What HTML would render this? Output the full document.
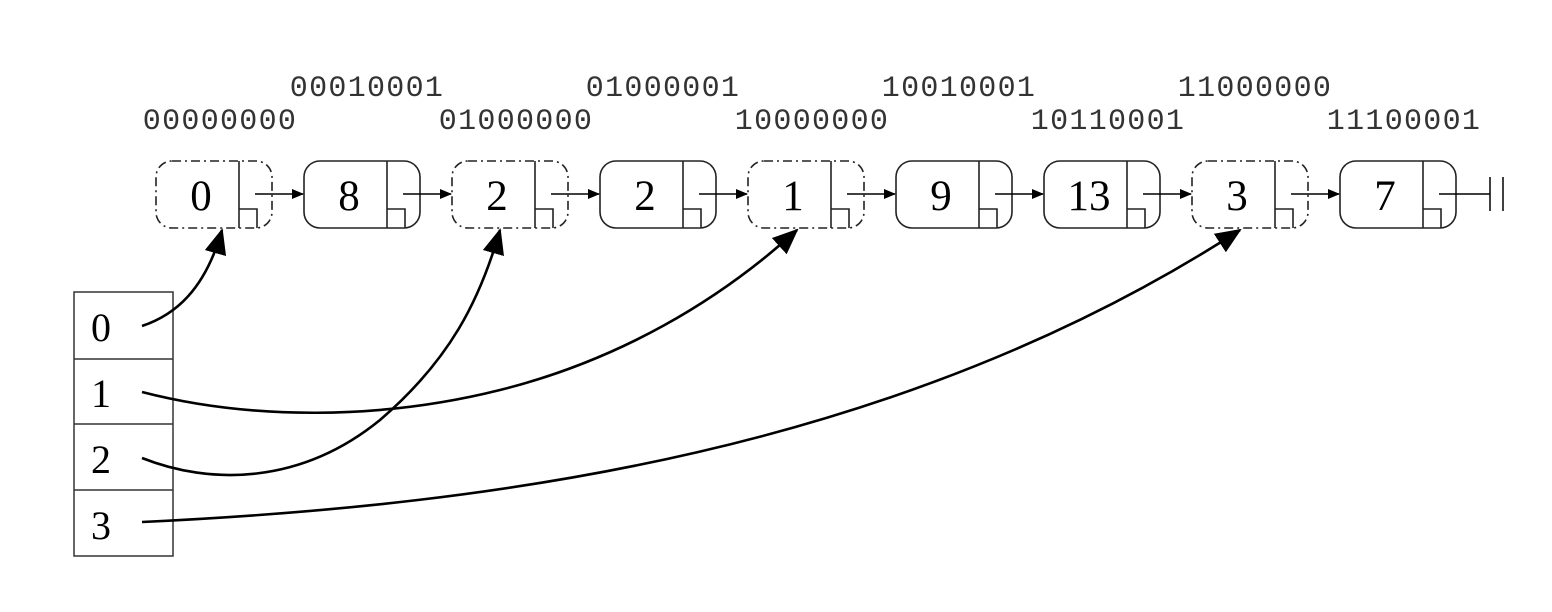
<!DOCTYPE html>
<html><head><style>
html,body{margin:0;padding:0;background:#fff;}
svg{display:block}
.lab{font-family:"Liberation Mono","DejaVu Sans Mono",monospace;font-size:30px;fill:#333;text-anchor:middle;letter-spacing:1.3px}
.num{font-family:"Liberation Serif",serif;font-size:43px;fill:#000;text-anchor:middle}
</style></head><body>
<svg width="1552" height="612" viewBox="0 0 1552 612" xmlns="http://www.w3.org/2000/svg">
<defs>
<marker id="a" markerWidth="12" markerHeight="10" refX="11" refY="5" orient="auto" markerUnits="userSpaceOnUse">
<path d="M0,0 L12,5 L0,10 z" fill="#000"/></marker>
<marker id="b" markerWidth="26" markerHeight="22" refX="24" refY="11" orient="auto" markerUnits="userSpaceOnUse">
<path d="M0,0 L26,11 L0,22 z" fill="#000"/></marker>
<g id="inner">
<line x1="83" y1="0" x2="83" y2="67"/>
<polyline points="83,48 101,48 101,67" fill="none"/>
</g>
<rect id="box" x="0" y="0" width="116" height="67" rx="16" fill="none"/>
</defs>
<g stroke="#222" stroke-width="1.6" fill="none">
<use href="#box" x="156" y="161" stroke-dasharray="9,4,2,4"/>
<use href="#box" x="304" y="161"/>
<use href="#box" x="452" y="161" stroke-dasharray="9,4,2,4"/>
<use href="#box" x="600" y="161"/>
<use href="#box" x="748" y="161" stroke-dasharray="9,4,2,4"/>
<use href="#box" x="896" y="161"/>
<use href="#box" x="1044" y="161"/>
<use href="#box" x="1192" y="161" stroke-dasharray="9,4,2,4"/>
<use href="#box" x="1340" y="161"/>
<use href="#inner" x="156" y="161"/><use href="#inner" x="304" y="161"/>
<use href="#inner" x="452" y="161"/><use href="#inner" x="600" y="161"/>
<use href="#inner" x="748" y="161"/><use href="#inner" x="896" y="161"/>
<use href="#inner" x="1044" y="161"/><use href="#inner" x="1192" y="161"/>
<use href="#inner" x="1340" y="161"/>
</g>
<g stroke="#000" stroke-width="1.5" marker-end="url(#a)">
<line x1="255" y1="194" x2="303" y2="194"/>
<line x1="403" y1="194" x2="451" y2="194"/>
<line x1="551" y1="194" x2="599" y2="194"/>
<line x1="699" y1="194" x2="747" y2="194"/>
<line x1="847" y1="194" x2="895" y2="194"/>
<line x1="995" y1="194" x2="1043" y2="194"/>
<line x1="1143" y1="194" x2="1191" y2="194"/>
<line x1="1291" y1="194" x2="1339" y2="194"/>
</g>
<g stroke="#000" stroke-width="1.5">
<line x1="1439" y1="194" x2="1490" y2="194"/>
<line x1="1490" y1="177" x2="1490" y2="211"/>
<line x1="1503" y1="177" x2="1503" y2="211"/>
</g>
<g class="num">
<text x="201" y="210">0</text><text x="349" y="210">8</text><text x="497" y="210">2</text>
<text x="645" y="210">2</text><text x="793" y="210">1</text><text x="941" y="210">9</text>
<text x="1089" y="210">13</text><text x="1237" y="210">3</text><text x="1385" y="210">7</text>
</g>
<g class="lab">
<text x="220" y="129">00000000</text><text x="367" y="96">00010001</text>
<text x="516" y="129">01000000</text><text x="663" y="96">01000001</text>
<text x="812" y="129">10000000</text><text x="959" y="96">10010001</text>
<text x="1108" y="129">10110001</text><text x="1255" y="96">11000000</text>
<text x="1404" y="129">11100001</text>
</g>
<g stroke="#333" stroke-width="1.5" fill="none">
<rect x="74" y="292" width="99" height="264"/>
<line x1="74" y1="359" x2="173" y2="359"/>
<line x1="74" y1="424" x2="173" y2="424"/>
<line x1="74" y1="490" x2="173" y2="490"/>
</g>
<g class="num" style="font-size:40px">
<text x="101" y="341">0</text><text x="101" y="407">1</text>
<text x="101" y="473">2</text><text x="101" y="539">3</text>
</g>
<g stroke="#000" stroke-width="2.6" fill="none" marker-end="url(#b)">
<path d="M142,326 C175,315 205,290 222,230"/>
<path d="M142,458 C210,485 300,485 380,420 C450,360 480,300 500,230"/>
<path d="M142,392 C250,420 380,420 500,390 C620,360 720,300 797,230"/>
<path d="M142,522 C500,505 900,450 1240,230"/>
</g>
</svg>
</body></html>
